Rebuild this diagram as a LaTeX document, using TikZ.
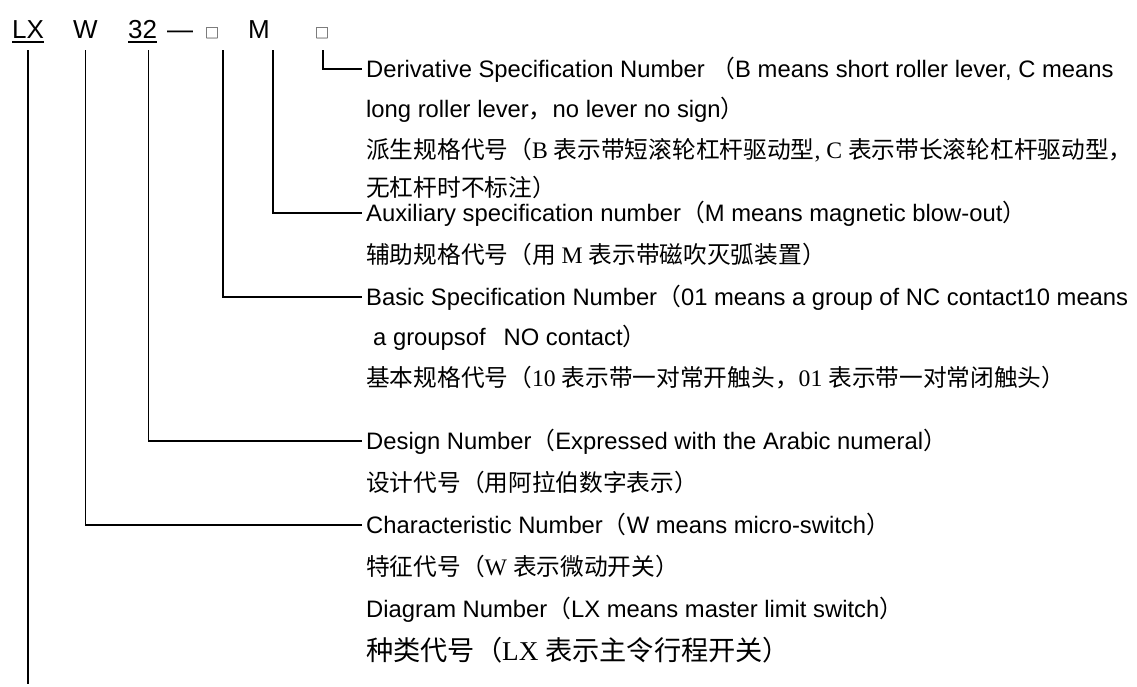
\documentclass[tikz,border=0pt]{standalone}
\usepackage{fontspec}
\setmainfont{Liberation Sans}
\newfontfamily\cjk{Noto Sans CJK SC}
\newfontfamily\tms{Liberation Serif}
\usepackage{tikz}
\usetikzlibrary{positioning, calc}
\newcommand{\zh}[1]{{\cjk #1}}
\newcommand{\tm}[1]{{\tms #1}}

\begin{document}
\begin{tikzpicture}[x=1pt, y=-1pt]
    \tikzstyle{code} = [inner sep=0pt, anchor=base west, font=\fontsize{26}{30}\selectfont]
    \tikzstyle{blank} = [inner sep=0pt, anchor=base west, font=\cjk\fontsize{14}{16}\selectfont]
    \tikzstyle{entxt} = [anchor=west, inner xsep=4pt, inner ysep=0pt, text height=17pt, text depth=0pt, font=\fontsize{23.8}{26}\selectfont]
    \tikzstyle{zhtxt} = [anchor=west, inner xsep=4pt, inner ysep=0pt, text height=17.8pt, text depth=0pt, font=\cjk\fontsize{23.7}{26}\selectfont]
    \tikzstyle{lead} = [line width=1.6pt]

    \useasboundingbox (0,0) rectangle (1137,686);

    % model code
    \node [code] (lx) at (12,38) {LX};
    \node [code] (w) at (73,38) {W};
    \node [code] (n32) at (128,38) {32};
    \node [code] (dash) at (167,38) {—};
    \node [blank] (b1) at (205,38) {□};
    \node [code] (m) at (248,38) {M};
    \node [blank] (b2) at (315,38) {□};
    \draw [lead] ([yshift=-4pt]lx.base west) -- ([yshift=-4pt]lx.base east);
    \draw [lead] ([yshift=-4pt]n32.base west) -- ([yshift=-4pt]n32.base east);

    % explanations
    \node [entxt] (r1) at (362,69) {Derivative Specification Number \zh{（}B means short roller lever, C means};
    \node [entxt] (r2) at (362,109) {long roller lever\zh{，}no lever no sign\zh{）}};
    \node [zhtxt] (r3) at (362,150) {派生规格代号（\tm{B }表示带短滚轮杠杆驱动型\tm{, C }表示带长滚轮杠杆驱动型，};
    \node [zhtxt] (r4) at (362,188) {无杠杆时不标注）};
    \node [entxt] (r5) at (362,213) {Auxiliary specification number\zh{（}M means magnetic blow-out\zh{）}};
    \node [zhtxt] (r6) at (362,255) {辅助规格代号（用\tm{ M }表示带磁吹灭弧装置）};
    \node [entxt] (r7) at (362,297) {Basic Specification Number\zh{（}01 means a group of NC contact10 means};
    \node [entxt] (r8) at (362,337) {\hspace{7pt}a groupsof\hspace{18pt}NO contact\zh{）}};
    \node [zhtxt] (r9) at (362,378) {基本规格代号（\tm{10 }表示带一对常开触头，\tm{01 }表示带一对常闭触头）};
    \node [entxt] (r10) at (362,441) {Design Number\zh{（}Expressed with the Arabic numeral\zh{）}};
    \node [zhtxt] (r11) at (362,483) {设计代号（用阿拉伯数字表示）};
    \node [entxt] (r12) at (362,525) {Characteristic Number\zh{（}W means micro-switch\zh{）}};
    \node [zhtxt] (r13) at (362,567) {特征代号（\tm{W }表示微动开关）};
    \node [entxt] (r14) at (362,609) {Diagram Number\zh{（}LX means master limit switch\zh{）}};
    \node [zhtxt, font=\cjk\fontsize{27.2}{30}\selectfont, text height=20.4pt] (r15) at (362,650) {种类代号（\tm{LX }表示主令行程开关）};

    % leader lines
    \draw [lead] ([xshift=1pt, yshift=-12pt]b2.base) |- (r1.west);
    \draw [lead] ([xshift=14pt, yshift=-12pt]m.base) |- (r5.west);
    \draw [lead] ([xshift=11pt, yshift=-12pt]b1.base) |- (r7.west);
    \draw [lead] ([xshift=6pt, yshift=-12pt]n32.base) |- (r10.west);
    \draw [lead] ([yshift=-12pt]w.base) |- (r12.west);
    \coordinate (lxend) at ([yshift=-646pt]lx.base);
    \draw [lead] ([yshift=-12pt]lx.base) -- (lxend);
\end{tikzpicture}
\end{document}
